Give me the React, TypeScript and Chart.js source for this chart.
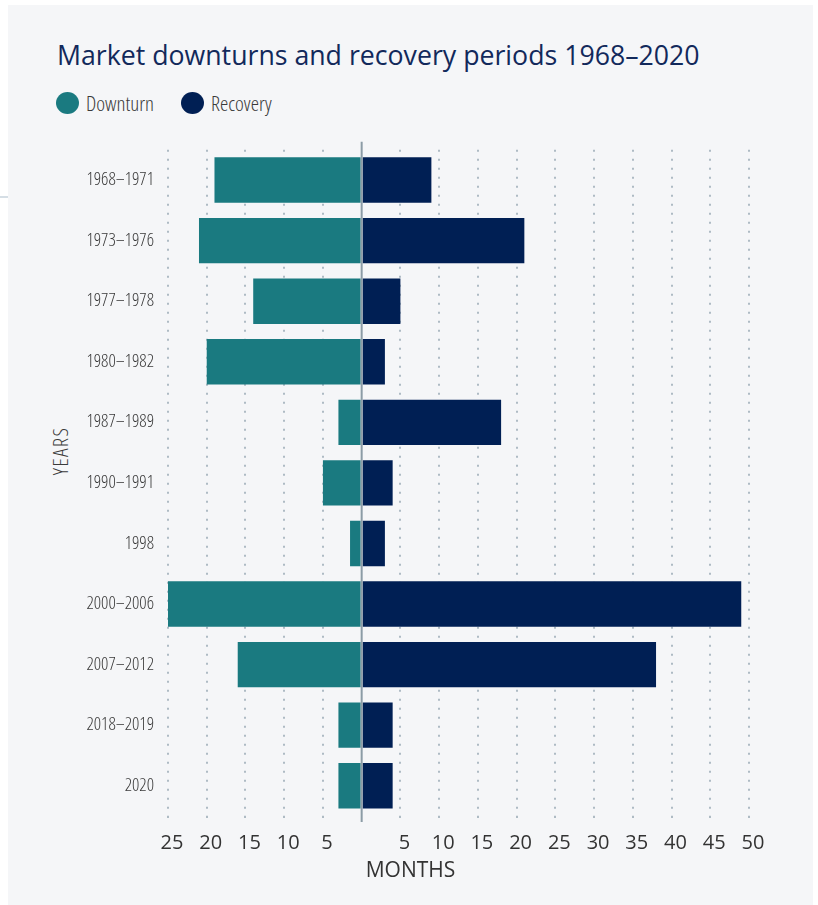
import React, { useEffect, useRef } from "react";
import { Chart, registerables } from "chart.js";
Chart.register(...registerables);

const periods = [
  "1968–1971",
  "1973–1976",
  "1977–1978",
  "1980–1982",
  "1987–1989",
  "1990–1991",
  "1998",
  "2000–2006",
  "2007–2012",
  "2018–2019",
  "2020",
];
const downturnMonths = [19, 21, 14, 20, 3, 5, 1.5, 25, 16, 3, 3];
const recoveryMonths = [9, 21, 5, 3, 18, 4, 3, 49, 38, 4, 4];
const monthMin = -25;
const monthMax = 50;
const monthStep = 5;

const TEAL = "#1a7a80";
const NAVY = "#001f54";
const FAMILY = "'Open Sans', sans-serif";
const GRID = "#aebbc4";

const zeroLine = {
  id: "zeroLine",
  afterDatasetsDraw(chart: any) {
    const x = chart.scales.x.getPixelForValue(0);
    const { top, bottom } = chart.chartArea;
    const ctx = chart.ctx;
    ctx.save();
    ctx.strokeStyle = "#8c9ca6";
    ctx.lineWidth = 2;
    ctx.beginPath();
    ctx.moveTo(x, top - 8);
    ctx.lineTo(x, bottom + 6);
    ctx.stroke();
    ctx.restore();
  },
};

export default function App() {
  const ref = useRef<HTMLCanvasElement | null>(null);
  useEffect(() => {
    document.body.style.margin = "0";
    if (!ref.current) return;
    const chart = new Chart(ref.current, {
      type: "bar",
      data: {
        labels: periods,
        datasets: [
          {
            label: "Downturn",
            data: downturnMonths.map((v) => -v),
            backgroundColor: TEAL,
            barPercentage: 0.75,
            categoryPercentage: 1,
          },
          {
            label: "Recovery",
            data: recoveryMonths,
            backgroundColor: NAVY,
            barPercentage: 0.75,
            categoryPercentage: 1,
          },
        ],
      },
      options: {
        indexAxis: "y",
        animation: false,
        responsive: true,
        maintainAspectRatio: false,
        layout: { padding: { top: 10, right: 64, left: 0, bottom: 0 } },
        plugins: { legend: { display: false }, tooltip: { enabled: false }, title: { display: false } },
        scales: {
          x: {
            type: "linear",
            stacked: true,
            min: monthMin,
            max: monthMax,
            afterFit: (s: any) => {
              s.height = 40;
            },
            ticks: {
              stepSize: monthStep,
              color: "#333333",
              padding: 10,
              labelOffset: 4,
              font: { family: FAMILY, size: 20, weight: "400" },
              callback: (v: any) => (Number(v) === 0 ? "" : String(Math.abs(Number(v)))),
            },
            grid: {
              drawTicks: true,
              tickLength: 5,
              tickBorderDash: [2, 7],
              lineWidth: 2,
              color: (c: any) => (c.tick && c.tick.value === 0 ? "rgba(0,0,0,0)" : GRID),
              tickColor: (c: any) => (c.tick && c.tick.value === 0 ? "rgba(0,0,0,0)" : GRID),
            },
            border: { display: false, dash: [2, 7] },
          },
          y: {
            type: "category",
            stacked: true,
            afterFit: (s: any) => {
              s.width = 160;
            },
            ticks: {
              color: "#3a3a3a",
              padding: 14,
              font: { family: FAMILY, size: 18, weight: "300 condensed" as any },
            },
            grid: { display: false, drawTicks: false },
            border: { display: false },
          },
        },
      },
      plugins: [zeroLine],
    });
    return () => chart.destroy();
  }, []);

  return (
    <div
      style={{
        position: "relative",
        width: 805,
        height: 900,
        marginLeft: 8,
        marginTop: 5,
        background: "#f5f6f8",
        fontFamily: FAMILY,
      }}
    >
      <div style={{ position: "absolute", left: -8, top: 191, width: 8, height: 2, background: "#d5dee5" }} />
      <div
        style={{
          position: "absolute",
          left: 49,
          top: 37,
          fontSize: 26.7,
          lineHeight: 1,
          color: "#12295b",
          fontWeight: 400,
          whiteSpace: "nowrap",
        }}
      >
        Market downturns and recovery periods 1968–2020
      </div>
      <div
        style={{
          position: "absolute",
          left: 48,
          top: 87,
          height: 22,
          display: "flex",
          alignItems: "center",
          fontSize: 21,
          fontWeight: 300,
          fontStretch: "75%",
          color: "#3a3a3a",
          whiteSpace: "nowrap",
        }}
      >
        <span style={{ width: 23, height: 22, borderRadius: "50%", background: TEAL, display: "inline-block" }} />
        <span style={{ marginLeft: 7 }}>Downturn</span>
        <span
          style={{ width: 23, height: 22, borderRadius: "50%", background: NAVY, display: "inline-block", marginLeft: 27 }}
        />
        <span style={{ marginLeft: 7 }}>Recovery</span>
      </div>
      <div style={{ position: "absolute", left: 52, top: 446, width: 0, height: 0 }}>
        <div
          style={{
            position: "absolute",
            transform: "translate(-50%, -50%) rotate(-90deg)",
            fontSize: 21,
            fontWeight: 300,
            fontStretch: "75%",
            letterSpacing: 1.5,
            color: "#3a3a3a",
            whiteSpace: "nowrap",
            lineHeight: 1,
          }}
        >
          YEARS
        </div>
      </div>
      <div style={{ position: "absolute", left: 0, top: 120, width: 805, height: 731 }}>
        <canvas ref={ref} />
      </div>
      <div
        style={{
          position: "absolute",
          left: 0,
          width: 805,
          top: 851,
          textAlign: "center",
          fontSize: 21,
          lineHeight: 1.3,
          color: "#333333",
        }}
      >
        MONTHS
      </div>
    </div>
  );
}
